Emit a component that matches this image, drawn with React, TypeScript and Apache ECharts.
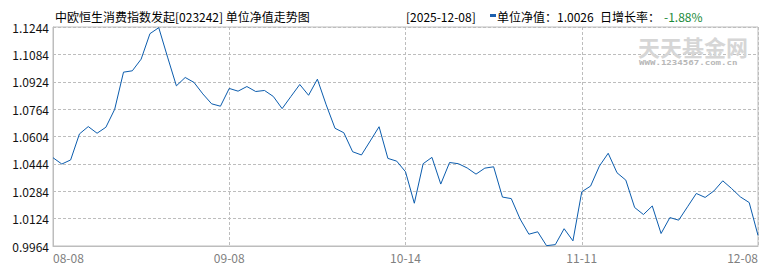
import React, { useEffect, useRef } from 'react';
import * as echarts from 'echarts';

const titleText = '中欧恒生消费指数发起[023242] 单位净值走势图';
const latestDate = '2025-12-08';
const latestNav = '1.0026';
const dailyChange = '-1.88%';
const watermarkMain = '天天基金网';
const watermarkSub = 'WWW.1234567.com.cn';

const dates = [
  '08-08', '08-11', '08-12', '08-13', '08-14', '08-15', '08-18', '08-19', '08-20', '08-21',
  '08-22', '08-25', '08-26', '08-27', '08-28', '08-29', '09-01', '09-02', '09-03', '09-04',
  '09-08', '09-09', '09-10', '09-11', '09-12', '09-15', '09-16', '09-17', '09-18', '09-19',
  '09-22', '09-23', '09-24', '09-25', '09-26', '09-29', '09-30', '10-09', '10-10', '10-13',
  '10-14', '10-15', '10-16', '10-17', '10-20', '10-21', '10-22', '10-23', '10-24', '10-27',
  '10-28', '10-29', '10-30', '10-31', '11-03', '11-04', '11-05', '11-06', '11-07', '11-10',
  '11-11', '11-12', '11-13', '11-14', '11-17', '11-18', '11-19', '11-20', '11-21', '11-24',
  '11-25', '11-26', '11-27', '11-28', '12-01', '12-02', '12-03', '12-04', '12-05', '12-06',
  '12-08',
];

const navValues = [
  1.0480, 1.0443, 1.0467, 1.0619, 1.0662, 1.0623, 1.0658, 1.0763, 1.0980, 1.0988,
  1.1056, 1.1205, 1.1240, 1.1068, 1.0900, 1.0949, 1.0920, 1.0853, 1.0795, 1.0781,
  1.0885, 1.0869, 1.0896, 1.0867, 1.0873, 1.0838, 1.0767, 1.0838, 1.0908, 1.0845,
  1.0939, 1.0789, 1.0652, 1.0626, 1.0515, 1.0496, 1.0578, 1.0661, 1.0476, 1.0460,
  1.0398, 1.0214, 1.0445, 1.0482, 1.0326, 1.0452, 1.0445, 1.0420, 1.0384, 1.0419,
  1.0427, 1.0250, 1.0241, 1.0122, 1.0033, 1.0047, 0.9966, 0.9972, 1.0065, 0.9994,
  1.0281, 1.0314, 1.0431, 1.0506, 1.0392, 1.0349, 1.0189, 1.0148, 1.0198, 1.0037,
  1.0130, 1.0115, 1.0193, 1.0271, 1.0248, 1.0286, 1.0345, 1.0300, 1.0251, 1.0218,
  1.0026,
];

const yMin = 0.9964;
const yMax = 1.1244;
const yStep = 0.016;
const labelEvery = 20;

const CJK = '"Noto Sans CJK SC", "Noto Sans", sans-serif';

export default function App() {
  const ref = useRef<HTMLDivElement>(null);

  useEffect(() => {
    if (!ref.current) return;
    const chart = echarts.init(ref.current, undefined, { renderer: 'svg' });
    chart.setOption({
      animation: false,
      backgroundColor: '#ffffff',
      grid: {
        left: 53,
        right: 12,
        top: 27,
        bottom: 24,
        show: true,
        borderColor: '#bdbdbd',
        borderWidth: 1,
        containLabel: false,
      },
      xAxis: {
        type: 'category',
        data: dates,
        boundaryGap: false,
        axisLine: { show: true, lineStyle: { color: '#bdbdbd', width: 1 } },
        axisTick: { show: false },
        axisLabel: {
          interval: labelEvery - 1,
          color: '#808080',
          fontSize: 12,
          fontFamily: CJK,
          margin: 5,
          alignMinLabel: 'left',
          alignMaxLabel: 'right',
        },
        splitLine: {
          show: true,
          interval: labelEvery - 1,
          lineStyle: { color: '#bdbdbd', type: [3, 2], width: 1 },
        },
      },
      yAxis: {
        type: 'value',
        min: yMin,
        max: yMax,
        interval: yStep,
        axisLine: { show: true, lineStyle: { color: '#bdbdbd', width: 1 } },
        axisTick: { show: false },
        axisLabel: {
          color: '#111111',
          fontSize: 12,
          fontFamily: CJK,
          margin: 4,
          formatter: (v: number) => v.toFixed(4),
        },
        splitLine: {
          show: true,
          lineStyle: { color: '#bdbdbd', type: [3, 2], width: 1 },
        },
      },
      series: [
        {
          type: 'line',
          data: navValues,
          symbol: 'none',
          smooth: false,
          lineStyle: { color: '#0b5cad', width: 1 },
          z: 5,
        },
      ],
      graphic: [
        {
          type: 'text',
          x: 55,
          y: 16,
          style: {
            text: titleText,
            font: `12px ${CJK}`,
            fill: '#000000',
            verticalAlign: 'middle',
          },
        },
        {
          type: 'text',
          x: 406,
          y: 16,
          style: {
            text: `[${latestDate}]`,
            font: `12px ${CJK}`,
            fill: '#000000',
            verticalAlign: 'middle',
          },
        },
        {
          type: 'rect',
          shape: { x: 490, y: 14, width: 6, height: 3 },
          style: { fill: '#1b5fae' },
        },
        {
          type: 'text',
          x: 497,
          y: 16,
          style: {
            text: `单位净值：${latestNav}`,
            font: `12px ${CJK}`,
            fill: '#000000',
            verticalAlign: 'middle',
          },
        },
        {
          type: 'text',
          x: 600,
          y: 16,
          style: {
            text: '日增长率：',
            font: `12px ${CJK}`,
            fill: '#000000',
            verticalAlign: 'middle',
          },
        },
        {
          type: 'text',
          x: 664,
          y: 16,
          style: {
            text: dailyChange,
            font: `12px ${CJK}`,
            fill: '#1a8a3a',
            verticalAlign: 'middle',
          },
        },
        {
          type: 'text',
          x: 638,
          y: 46,
          z: 1,
          style: {
            text: watermarkMain,
            font: `bold 22px ${CJK}`,
            fill: '#d6d6d6',
            verticalAlign: 'middle',
          },
        },
        {
          type: 'text',
          x: 639,
          y: 62.5,
          scaleX: 1.3,
          z: 1,
          style: {
            text: watermarkSub,
            font: 'bold 7px "DejaVu Sans Mono", monospace',
            fill: '#b8b8b8',
            verticalAlign: 'middle',
          },
        },
      ],
    });
    return () => chart.dispose();
  }, []);

  return (
    <div
      ref={ref}
      style={{ position: 'fixed', left: 0, top: 0, width: 770, height: 270, background: '#fff' }}
    />
  );
}
